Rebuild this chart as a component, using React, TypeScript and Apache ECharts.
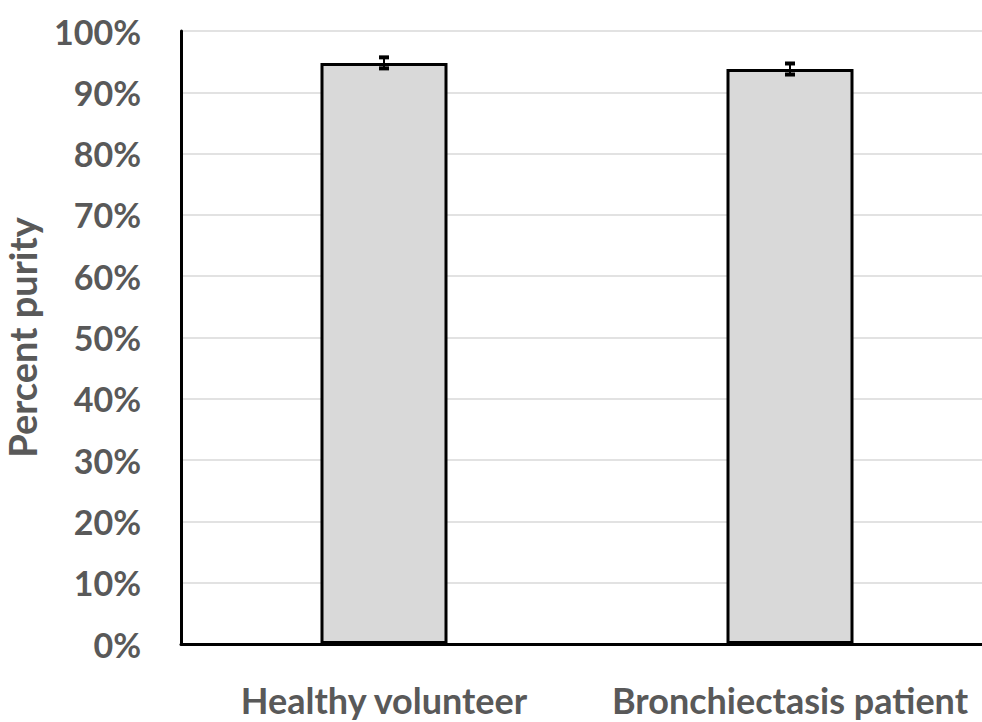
import React, { useEffect, useRef } from "react";
import * as echarts from "echarts";

const categories = ["Healthy volunteer", "Bronchiectasis patient"];
const purity = [0.948, 0.938];
const errors = [0.009, 0.009];
const yTicks = [0, 0.1, 0.2, 0.3, 0.4, 0.5, 0.6, 0.7, 0.8, 0.9, 1.0];

const FONT = "Lato, 'Open Sans', sans-serif";
const TEXT = "#595959";

export default function App() {
  const ref = useRef<HTMLDivElement>(null);
  useEffect(() => {
    if (!ref.current) return;
    const chart = echarts.init(ref.current, undefined, { renderer: "svg" });
    const errData = categories.map((_, i) => [i, purity[i] - errors[i], purity[i] + errors[i]]);
    chart.setOption({
      animation: false,
      grid: { left: 181, right: -11, top: 31, bottom: 78, containLabel: false, outerBoundsMode: "none" },
      xAxis: {
        type: "category",
        data: categories,
        axisLine: { show: true, onZero: false, lineStyle: { color: "#000", width: 3 } },
        axisTick: { show: false },
        axisLabel: {
          color: TEXT,
          fontFamily: FONT,
          fontWeight: "bold",
          fontSize: 36,
          margin: 38,
          interval: 0,
          hideOverlap: false,
        },
      },
      yAxis: {
        type: "value",
        min: 0,
        max: 1,
        interval: 0.1,
        name: "Percent purity",
        nameLocation: "middle",
        nameGap: 140,
        nameTextStyle: { color: TEXT, fontFamily: FONT, fontWeight: "bold", fontSize: 38 },
        axisLine: { show: true, lineStyle: { color: "#000", width: 3 } },
        axisTick: { show: false },
        splitLine: { show: true, lineStyle: { color: "#d9d9d9", width: 1.5 } },
        axisLabel: {
          color: TEXT,
          fontFamily: FONT,
          fontWeight: "bold",
          fontSize: 34,
          margin: 40,
          formatter: (v: number) => {
            const t = yTicks.find((x) => Math.abs(x - v) < 1e-6);
            return t === undefined ? "" : Math.round(t * 100) + "%";
          },
        },
      },
      series: [
        {
          type: "bar",
          data: purity,
          barWidth: 127,
          itemStyle: { color: "#d9d9d9", borderColor: "#000", borderWidth: 3 },
          z: 2,
        },
        {
          type: "custom",
          data: errData,
          z: 5,
          renderItem: (params: any, api: any) => {
            const x = api.coord([api.value(0), 0])[0];
            const lo = api.coord([api.value(0), api.value(1)])[1];
            const hi = api.coord([api.value(0), api.value(2)])[1];
            const hw = 5;
            const style = { stroke: "#000", lineWidth: 2 };
            const capStyle = { stroke: "#000", lineWidth: 4 };
            return {
              type: "group",
              children: [
                { type: "line", shape: { x1: x, y1: lo, x2: x, y2: hi }, style },
                { type: "line", shape: { x1: x - hw, y1: lo, x2: x + hw, y2: lo }, style: capStyle },
                { type: "line", shape: { x1: x - hw, y1: hi, x2: x + hw, y2: hi }, style: capStyle },
              ],
            };
          },
        },
      ],
    });
    return () => chart.dispose();
  }, []);
  return <div ref={ref} style={{ width: 982, height: 722, position: "absolute", left: 0, top: 0 }} />;
}
